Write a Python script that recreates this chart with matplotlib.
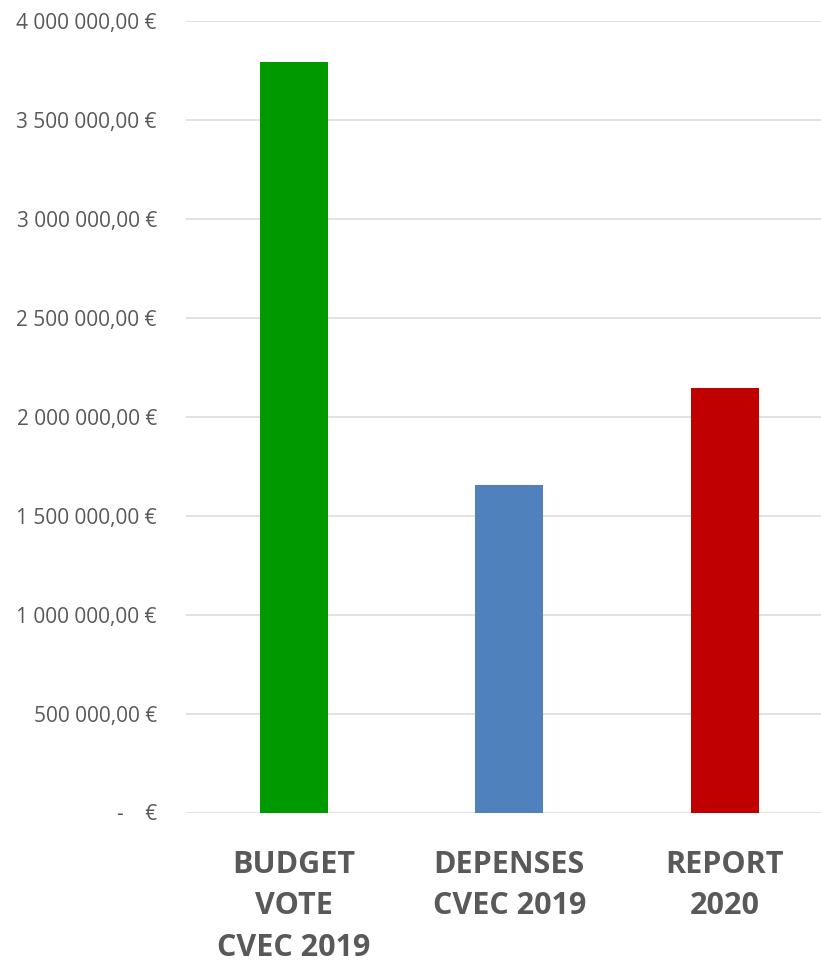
import matplotlib.pyplot as plt
from matplotlib.ticker import FuncFormatter

# ============================================================
# DATA
# ============================================================

categories = ["BUDGET\nVOTE\nCVEC 2019", "DEPENSES\nCVEC 2019", "REPORT\n2020"]
amounts = [3792000, 1655000, 2145000]
bar_colors = ["#009900", "#4F81BD", "#C00000"]
y_ticks = [0, 500000, 1000000, 1500000, 2000000, 2500000, 3000000, 3500000, 4000000]

TEXT = "#595959"


def euro(v, pos=None):
    if v == 0:
        return "-    €"
    s = f"{v:,.2f}".replace(",", " ").replace(".", ",")
    return s + " €"


# ============================================================
# PLOT
# ============================================================

W, H = 821, 965
fig = plt.figure(figsize=(W / 100, H / 100), dpi=100)
ax = fig.add_axes([186 / W, (H - 812.5) / H, 1 - 186 / W, (812.5 - 21) / H])

x = range(len(categories))
ax.bar(x, amounts, width=0.316, color=bar_colors, zorder=3)

ax.set_xlim(-0.5, -0.5 + (W - 186) / 215.5)
ax.set_ylim(0, 4000000)
ax.set_yticks(y_ticks)
ax.yaxis.set_major_formatter(FuncFormatter(euro))
ax.set_xticks(list(x))
ax.set_xticklabels(categories, fontsize=22, fontweight="bold",
                   family="Open Sans", color=TEXT, linespacing=1.5)

for lbl in ax.get_yticklabels():
    lbl.set_family("Open Sans")
    lbl.set_fontsize(15)
    lbl.set_color(TEXT)

ax.tick_params(axis="y", length=0, pad=21)
ax.tick_params(axis="x", length=0, pad=27)
ax.grid(axis="y", color="#D9D9D9", linewidth=1.1, zorder=0)
for s in ax.spines.values():
    s.set_visible(False)

fig.savefig("out.png", dpi=100)
